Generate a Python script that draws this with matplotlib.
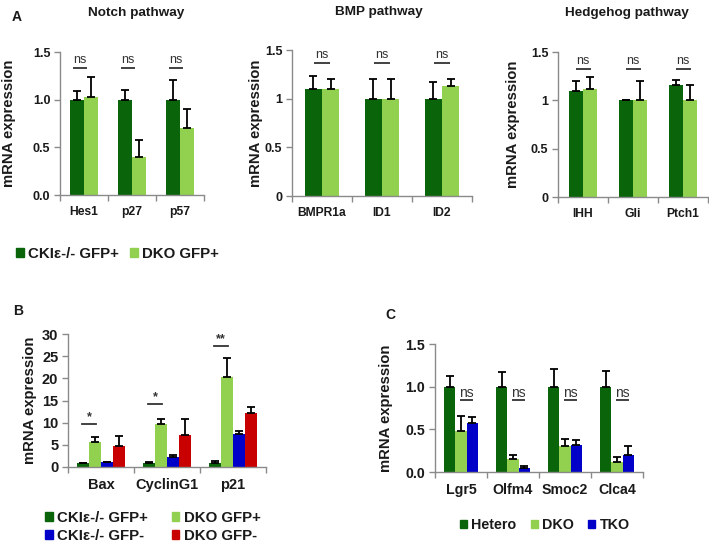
import matplotlib
matplotlib.use("Agg")
import matplotlib.pyplot as plt
import numpy as np
from matplotlib.patches import Patch

plt.rcParams['font.family'] = ['Liberation Sans', 'DejaVu Sans']

# ---------------- data ----------------
notch_genes = ["Hes1", "p27", "p57"]
notch_ckie = [1.00, 1.00, 1.00]
notch_ckie_err = [0.09, 0.10, 0.21]
notch_dko = [1.03, 0.40, 0.70]
notch_dko_err = [0.21, 0.18, 0.20]

bmp_genes = ["BMPR1a", "ID1", "ID2"]
bmp_ckie = [1.10, 1.00, 1.00]
bmp_ckie_err = [0.13, 0.20, 0.17]
bmp_dko = [1.10, 1.00, 1.13]
bmp_dko_err = [0.10, 0.20, 0.07]

hh_genes = ["IHH", "Gli", "Ptch1"]
hh_ckie = [1.10, 1.00, 1.16]
hh_ckie_err = [0.10, 0.005, 0.05]
hh_dko = [1.12, 1.00, 1.00]
hh_dko_err = [0.12, 0.20, 0.16]

b_genes = ["Bax", "CyclinG1", "p21"]
b_ckie_pos = [0.80, 0.80, 0.80]
b_ckie_pos_err = [0.20, 0.25, 0.45]
b_dko_pos = [5.70, 9.70, 20.30]
b_dko_pos_err = [1.00, 1.10, 4.30]
b_ckie_neg = [1.05, 2.35, 7.55]
b_ckie_neg_err = [0.15, 0.25, 0.55]
b_dko_neg = [4.65, 7.25, 12.20]
b_dko_neg_err = [2.25, 3.65, 1.30]
b_sig = ["*", "*", "**"]
b_sig_y = [9.6, 14.2, 27.3]

c_genes = ["Lgr5", "Olfm4", "Smoc2", "Clca4"]
c_hetero = [1.00, 1.00, 1.00, 1.00]
c_hetero_err = [0.12, 0.17, 0.21, 0.18]
c_dko = [0.48, 0.155, 0.31, 0.115]
c_dko_err = [0.18, 0.045, 0.08, 0.065]
c_tko = [0.58, 0.045, 0.315, 0.195]
c_tko_err = [0.07, 0.025, 0.055, 0.105]

DG = "#0a640a"
LG = "#92d050"
BL = "#0000c8"
RD = "#c80000"
SPINE = "#8a8a8a"
TXT = "#1a1a1a"
YLFS = 10.7

W, H = 709, 546
fig = plt.figure(figsize=(W / 100, H / 100), dpi=100)


def ax_px(l, r, t, b):
    return fig.add_axes([l / W, 1 - b / H, (r - l) / W, (b - t) / H])


def style(ax, ncat, ylim, yticks, yticklabels, labels, fs_tick, fs_x, ylx):
    ax.set_xlim(0, ncat)
    ax.set_ylim(*ylim)
    for s in ["top", "right"]:
        ax.spines[s].set_visible(False)
    for s in ["left", "bottom"]:
        ax.spines[s].set_color(SPINE)
        ax.spines[s].set_linewidth(1.0)
    ax.set_yticks(yticks)
    ax.set_yticklabels(yticklabels, fontsize=fs_tick, fontweight="bold", color=TXT)
    ax.tick_params(axis="y", length=4, width=1, color=SPINE, pad=3)
    ax.set_xticks(np.arange(ncat) + 0.5)
    ax.set_xticklabels(labels, fontsize=fs_x, fontweight="bold", color=TXT)
    ax.set_xticks(np.arange(ncat + 1), minor=True)
    ax.tick_params(axis="x", which="major", length=0, pad=8)
    ax.tick_params(axis="x", which="minor", length=4, width=1, color=SPINE)
    ax.set_ylabel("mRNA expression", fontsize=YLFS, fontweight="bold", color=TXT)
    ax.yaxis.set_label_coords(ylx, 0.5)


def bars(ax, x, vals, errs, color, width):
    ax.bar(x, vals, width=width, color=color, edgecolor="none", zorder=2)
    ax.errorbar(x, vals, yerr=[np.zeros(len(vals)), errs], fmt="none",
                ecolor="black", elinewidth=1.3, capsize=2.6, capthick=1.3, zorder=3)


def ns_marks(ax, centers, y, half, fs=9, txt="ns", dy=0.06):
    for c in centers:
        ax.plot([c - half, c + half], [y, y], color="#333333", lw=1.3,
                solid_capstyle="butt", clip_on=False, zorder=4)
        ax.text(c, y + dy, txt, ha="center", va="bottom", fontsize=fs,
                color="#333333")


def legend(handles, labels, x, y, ncol, colsp, fs, lsp=0.5):
    leg = fig.legend(handles, labels, loc="center left",
                     bbox_to_anchor=(x / W, 1 - y / H), ncol=ncol,
                     frameon=False, handlelength=0.5, handleheight=0.5,
                     handletextpad=0.3, columnspacing=colsp, labelspacing=lsp,
                     borderaxespad=0, borderpad=0.4,
                     prop={"size": fs, "weight": "bold"})
    for t in leg.get_texts():
        t.set_color(TXT)
    return leg


# ---------------- Panel A: Notch ----------------
axN = ax_px(60, 204, 52, 195)
xN = np.arange(len(notch_genes)) + 0.5
wN = 0.29
bars(axN, xN - wN / 2, notch_ckie, notch_ckie_err, DG, wN)
bars(axN, xN + wN / 2, notch_dko, notch_dko_err, LG, wN)
style(axN, 3, (0, 1.5), [0, 0.5, 1.0, 1.5], ["0.0", "0.5", "1.0", "1.5"],
      notch_genes, 9, 8.7, -0.305)
ns_marks(axN, xN - 0.08, 1.33, 0.14, dy=0.02)
axN.set_title("Notch pathway", fontsize=9.7, fontweight="bold", color=TXT,
              pad=26, x=0.53)

# ---------------- Panel A: BMP ----------------
axB = ax_px(292, 472, 50, 196)
xB = np.arange(len(bmp_genes)) + 0.5
wB = 0.29
bars(axB, xB - wB / 2, bmp_ckie, bmp_ckie_err, DG, wB)
bars(axB, xB + wB / 2, bmp_dko, bmp_dko_err, LG, wB)
style(axB, 3, (0, 1.5), [0, 0.5, 1.0, 1.5], ["0", "0.5", "1", "1.5"],
      bmp_genes, 9, 8.7, -0.16)
ns_marks(axB, xB, 1.37, 0.14, dy=0.02)
axB.set_title("BMP pathway", fontsize=9.7, fontweight="bold", color=TXT,
              pad=25, x=0.48)

# ---------------- Panel A: Hedgehog ----------------
axH = ax_px(558, 708, 52, 197)
xH = np.arange(len(hh_genes)) + 0.5
wH = 0.28
bars(axH, xH - wH / 2, hh_ckie, hh_ckie_err, DG, wH)
bars(axH, xH + wH / 2, hh_dko, hh_dko_err, LG, wH)
style(axH, 3, (0, 1.5), [0, 0.5, 1.0, 1.5], ["0", "0.5", "1", "1.5"],
      hh_genes, 9, 8.7, -0.253)
ns_marks(axH, xH, 1.32, 0.15, dy=0.02)
axH.set_title("Hedgehog pathway", fontsize=9.7, fontweight="bold", color=TXT,
              pad=26, x=0.46)

fig.text(12 / W, 1 - 17 / H, "A", fontsize=10, fontweight="bold", color=TXT,
         va="center")

legend([Patch(color=DG), Patch(color=LG)], ["CKIε-/- GFP+", "DKO GFP+"],
       10, 254, 2, 0.75, 10.8)

# ---------------- Panel B ----------------
axBB = ax_px(68, 266, 334, 467)
xBB = np.arange(len(b_genes)) + 0.5
wBB = 0.18
bars(axBB, xBB - 1.5 * wBB, b_ckie_pos, b_ckie_pos_err, DG, wBB)
bars(axBB, xBB - 0.5 * wBB, b_dko_pos, b_dko_pos_err, LG, wBB)
bars(axBB, xBB + 0.5 * wBB, b_ckie_neg, b_ckie_neg_err, BL, wBB)
bars(axBB, xBB + 1.5 * wBB, b_dko_neg, b_dko_neg_err, RD, wBB)
style(axBB, 3, (0, 30), [0, 5, 10, 15, 20, 25, 30],
      ["0", "5", "10", "15", "20", "25", "30"], b_genes, 10.5, 10.5, -0.157)
for c, s, y in zip(xBB, b_sig, b_sig_y):
    x0, x1 = c - 1.6 * wBB, c - 0.4 * wBB
    axBB.plot([x0, x1], [y, y], color="#333333", lw=1.3, zorder=4)
    axBB.text((x0 + x1) / 2, y + 0.2, s, ha="center", va="bottom",
              fontsize=9, fontweight="bold", color="#333333")
fig.text(13 / W, 1 - 311 / H, "B", fontsize=10, fontweight="bold", color=TXT,
         va="center")

legend([Patch(color=DG), Patch(color=BL), Patch(color=LG), Patch(color=RD)],
       ["CKIε-/- GFP+", "CKIε-/- GFP-", "DKO GFP+", "DKO GFP-"],
       39, 527, 2, 1.6, 10.8, lsp=0.27)

# ---------------- Panel C ----------------
axC = ax_px(435, 643, 344, 472)
xC = np.arange(len(c_genes)) + 0.5
wC = 0.215
bars(axC, xC - wC, c_hetero, c_hetero_err, DG, wC)
bars(axC, xC, c_dko, c_dko_err, LG, wC)
bars(axC, xC + wC, c_tko, c_tko_err, BL, wC)
style(axC, 4, (0, 1.5), [0, 0.5, 1.0, 1.5], ["0.0", "0.5", "1.0", "1.5"],
      c_genes, 10.2, 10.2, -0.20)
ns_marks(axC, xC + wC / 2, 0.84, 0.125, fs=10, dy=0.0)
fig.text(385 / W, 1 - 315 / H, "C", fontsize=10, fontweight="bold", color=TXT,
         va="center")

legend([Patch(color=DG), Patch(color=LG), Patch(color=BL)],
       ["Hetero", "DKO", "TKO"], 454, 525, 3, 1.0, 10.3)

fig.savefig("out.png", dpi=100)
